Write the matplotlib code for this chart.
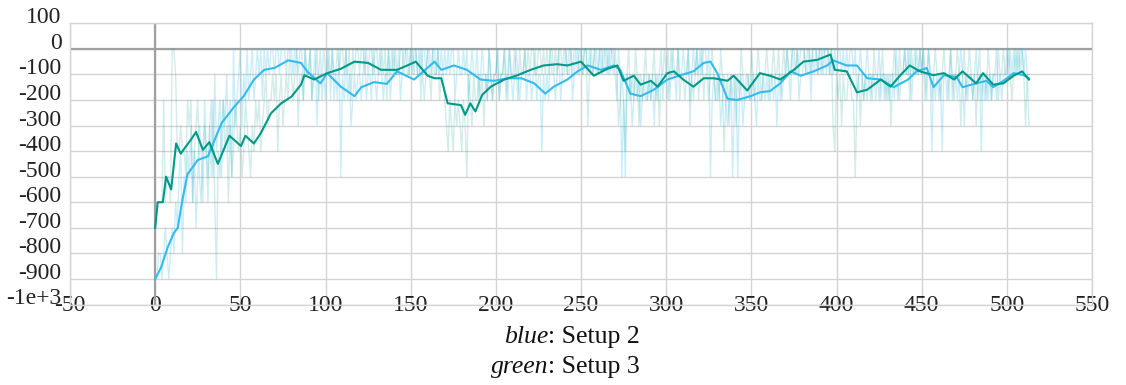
import matplotlib
matplotlib.use("Agg")
import matplotlib.pyplot as plt
import numpy as np

plt.rcParams['font.family'] = ['Liberation Serif', 'DejaVu Serif']
plt.rcParams['axes.unicode_minus'] = False

# raw episode rewards, one digit per episode: digit k means -100*k
raw_setup2 = ("9988987898" "7867548564" "5364753462" "4532514325" "2314250321"
              "0312021021" "0102010100" "1001000100" "0100100201" "1021031021"
              "2011021205" "1202132121" "1210211201" "2101211021" "0110210011"
              "0100102001" "0010010101" "0101002101" "1010210110" "2101120121"
              "1021102101" "2101211021" "1210211412" "1201121021" "1011021010"
              "0100101100" "1010010100" "1201525121" "3212132122" "1213121021"
              "1210112011" "0110210101" "0100105212" "2132123215" "2152132212"
              "2123122121" "2112131121" "1012011021" "1011020101" "0100101010"
              "1001010100" "1021012101" "2112102112" "1211201211" "0110210110"
              "1012014121" "2141121021" "1210131211" "2102141212" "1211201211"
              "0101010100" "1013")
raw_setup3 = ("7666626556" "0014434452" "3264325643" "4635269453" "2436354234"
              "3542345342" "3243213221" "2142132120" "1210311201" "1021102110"
              "1102011010" "0101020100" "1001010010" "0110102010" "1011001001"
              "0010110121" "0120110211" "2342342323" "4235123122" "1213120121"
              "1021101201" "1012011010" "1001100101" "0100101001" "0010010001"
              "0100310101" "1001001001" "0132124102" "1201312102" "1210213110"
              "1021011021" "1210312102" "1021121012" "1201421312" "1312012112"
              "0121012110" "1210110210" "1011001010" "0010010001" "0010001034"
              "1213122112" "2521312121" "1201121021" "2131012011" "0102011010"
              "1021012101" "1210112012" "1013102101" "2131021120" "1211021101"
              "1012101010" "1311")

# smoothed curves
smooth2_x = [0, 3.5, 7.4, 11, 13.3, 16, 19, 25, 31, 35, 39, 46.6, 52, 58, 64, 70, 78,
             85.6, 89.5, 97, 101, 109, 117, 121, 128.6, 136, 142, 152, 164, 168,
             175.4, 183, 191, 199, 207, 215, 222.6, 229, 234, 242, 248, 254, 261.6,
             269.4, 273, 279, 285, 292.7, 300.7, 308.5, 316, 322, 326, 330, 336,
             341.6, 349.6, 355, 361, 367, 373, 379, 386.6, 394.5, 398, 406, 412,
             418, 426, 433.6, 442, 447, 453, 457, 463, 470.5, 474, 482, 488, 492,
             498, 504, 510, 513]
smooth2_y = [-900, -855, -775, -720, -700, -590, -490, -435, -420, -355, -290, -225,
             -185, -120, -82, -75, -45, -55, -90, -135, -95, -148, -185, -150, -130,
             -137, -88, -120, -50, -82, -65, -82, -120, -125, -115, -115, -135, -175,
             -148, -120, -88, -65, -82, -65, -82, -175, -185, -160, -120, -103, -88,
             -55, -50, -95, -195, -200, -185, -170, -165, -135, -88, -105, -88, -65,
             -45, -65, -65, -115, -120, -150, -120, -88, -75, -150, -103, -110, -150,
             -135, -125, -150, -125, -95, -103, -115]
smooth3_x = [0, 1.5, 4.5, 6.4, 9.4, 12.3, 15, 21, 24, 28, 31.8, 36.8, 43.6, 50.4, 53,
             58, 62, 68, 74, 80, 85.6, 87.6, 93.4, 101, 109, 117, 125, 132.6, 142,
             148, 153, 160, 164, 168, 171.7, 179.5, 182, 185, 188, 192, 197, 205,
             212.7, 220.5, 228, 236, 242, 250, 257.5, 265.5, 271.4, 275, 281, 285,
             291, 295, 300.7, 304.6, 310, 316, 322, 328, 336, 339.6, 347.6, 355, 361,
             367, 375, 380.6, 388.7, 396.5, 399, 406, 412, 418, 426, 431.7, 437.5,
             443, 449, 457, 463, 469, 474, 482, 486, 492, 498, 504, 509, 511, 513]
smooth3_y = [-700, -600, -600, -500, -550, -370, -410, -355, -325, -395, -365, -450,
             -340, -380, -340, -370, -330, -252, -213, -187, -140, -103, -120, -95,
             -78, -50, -55, -82, -82, -65, -50, -105, -115, -115, -213, -220, -258,
             -213, -245, -180, -148, -120, -103, -82, -65, -60, -65, -50, -105, -78,
             -65, -125, -105, -140, -125, -148, -95, -88, -120, -148, -115, -115, -125,
             -105, -163, -95, -105, -120, -82, -50, -43, -22, -82, -88, -170, -160,
             -120, -148, -103, -65, -88, -103, -95, -120, -88, -135, -95, -140, -135,
             -105, -88, -105, -120]

y_ticks = [100, 0, -100, -200, -300, -400, -500, -600, -700, -800, -900, -1000]
y_labels = ["100", "0", "-100", "-200", "-300", "-400", "-500", "-600", "-700",
            "-800", "-900", "-1e+3"]
x_ticks = [-50, 0, 50, 100, 150, 200, 250, 300, 350, 400, 450, 500, 550]

blue = "#33bbee"
green = "#009988"

raw2 = np.array([-100 * int(c) for c in raw_setup2])
raw3 = np.array([-100 * int(c) for c in raw_setup3])

fig = plt.figure(figsize=(11.26, 3.85), dpi=100)
ax = fig.add_axes([70 / 1126, 1 - 304.5 / 385, (1092 - 70) / 1126, (304.5 - 23.3) / 385])

ax.plot(np.arange(len(raw2)), raw2, color=blue, alpha=0.25, lw=1, zorder=2)
ax.plot(np.arange(len(raw3)), raw3, color=green, alpha=0.18, lw=1, zorder=2)
ax.plot(smooth2_x, smooth2_y, color=blue, lw=1.5, zorder=4)
ax.plot(smooth3_x, smooth3_y, color=green, lw=1.5, zorder=5)

ax.axhline(0, color="#a0a0a0", lw=1.6, zorder=1.5)
ax.axvline(0, color="#a0a0a0", lw=1.6, zorder=1.5)

ax.set_xlim(-50, 550)
ax.set_ylim(-1000, 100)
ax.set_xticks(x_ticks)
ax.set_xticklabels([str(t) for t in x_ticks])
ax.set_yticks(y_ticks)
ax.set_yticklabels(y_labels)
ax.grid(True, color="#d4d4d4", lw=1, zorder=0)
ax.set_axisbelow(True)
for s in ax.spines.values():
    s.set_color("#d4d4d4")
    s.set_linewidth(1)
ax.tick_params(length=0, labelsize=17, colors="#222222")
ax.tick_params(axis='x', pad=-7)
ax.tick_params(axis='y', pad=6)
for lab in ax.get_yticklabels():
    lab.set_va('baseline')

fig.text(548 / 1126, 1 - 343 / 385, "blue", style='italic', ha='right', va='baseline',
         fontsize=18.5, color="#111111")
fig.text(548 / 1126, 1 - 343 / 385, ": Setup 2", ha='left', va='baseline',
         fontsize=18.5, color="#111111")
fig.text(548 / 1126, 1 - 373 / 385, "green", style='italic', ha='right', va='baseline',
         fontsize=18.5, color="#111111")
fig.text(548 / 1126, 1 - 373 / 385, ": Setup 3", ha='left', va='baseline',
         fontsize=18.5, color="#111111")

fig.savefig("out.png", dpi=100)
